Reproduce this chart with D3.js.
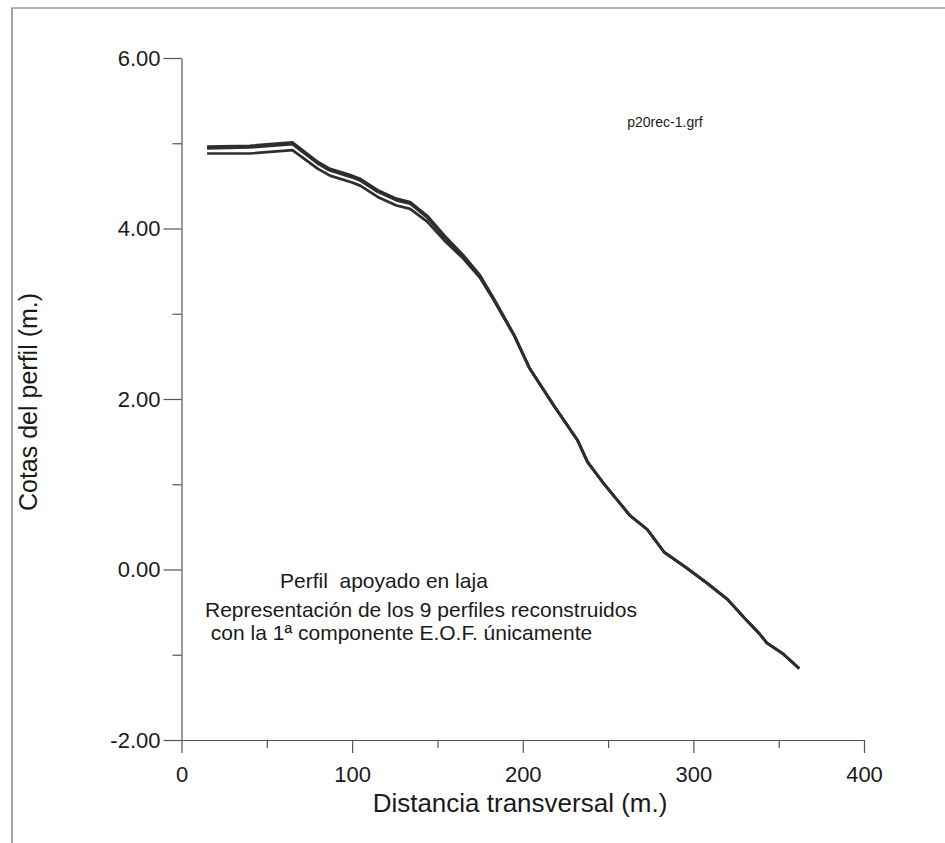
<!DOCTYPE html>
<html>
<head>
<meta charset="utf-8">
<script src="https://cdn.jsdelivr.net/npm/d3@7"></script>
<style>
  body { margin: 0; background: #fff; }
  svg { display: block; font-family: "Liberation Sans", Arial, sans-serif; }
</style>
</head>
<body>
<div id="chart"></div>
<script>
// distance along the profile (m.)
const distances = [15, 40, 65, 80, 87, 100, 105, 115, 126, 134, 144, 154, 165, 175, 183, 195, 204, 218, 232, 238, 247, 263, 273, 283, 296, 308, 320, 330, 339, 343, 352, 362];

// reconstructed profiles (only three are distinguishable in the plot)
const profileUpper = [4.96, 4.97, 5.01, 4.78, 4.70, 4.62, 4.58, 4.45, 4.35, 4.31, 4.15, 3.92, 3.69, 3.45, 3.18, 2.75, 2.36, 1.93, 1.52, 1.26, 1.02, 0.63, 0.47, 0.20, 0.02, -0.16, -0.35, -0.57, -0.76, -0.86, -0.98, -1.16];
const profileMid   = [4.94, 4.95, 4.99, 4.76, 4.68, 4.60, 4.56, 4.43, 4.33, 4.29, 4.13, 3.90, 3.68, 3.44, 3.17, 2.75, 2.36, 1.93, 1.52, 1.26, 1.02, 0.63, 0.47, 0.20, 0.02, -0.16, -0.35, -0.57, -0.76, -0.86, -0.98, -1.16];
const profileLower = [4.88, 4.88, 4.92, 4.70, 4.62, 4.54, 4.50, 4.37, 4.27, 4.23, 4.08, 3.86, 3.65, 3.42, 3.16, 2.74, 2.36, 1.93, 1.52, 1.26, 1.02, 0.63, 0.47, 0.20, 0.02, -0.16, -0.35, -0.57, -0.76, -0.86, -0.98, -1.16];

const xMajor = [0, 100, 200, 300, 400];
const xMinor = [50, 150, 250, 350];
const yMajor = [-2, 0, 2, 4, 6];
const yMinor = [-1, 1, 3, 5];

const width = 945, height = 843;

const svg = d3.select("#chart").append("svg")
    .attr("width", width)
    .attr("height", height);

// scan frame
svg.append("path")
    .attr("d", "M12,843 L12,8 L945,8")
    .attr("fill", "none")
    .attr("stroke", "#666")
    .attr("stroke-width", 1.2);

const x = d3.scaleLinear().domain([0, 400]).range([181.5, 864]);
const y = d3.scaleLinear().domain([-2, 6]).range([740, 58]);

// x axis
const xAxisG = svg.append("g").attr("transform", `translate(0,${y(-2)})`);
xAxisG.call(d3.axisBottom(x).tickValues(xMajor).tickFormat(d3.format("d"))
    .tickSize(13).tickSizeOuter(0).tickPadding(13));
xAxisG.call(g => g.append("g").call(d3.axisBottom(x).tickValues(xMinor)
    .tickFormat("").tickSize(8).tickSizeOuter(0)).select(".domain").remove());

// y axis (plain hyphen for negatives, as in the original)
const yAxisG = svg.append("g").attr("transform", `translate(${x(0)},0)`);
yAxisG.call(d3.axisLeft(y).tickValues(yMajor).tickFormat(d => d.toFixed(2))
    .tickSize(18).tickSizeOuter(0).tickPadding(3));
yAxisG.call(g => g.append("g").call(d3.axisLeft(y).tickValues(yMinor)
    .tickFormat("").tickSize(9).tickSizeOuter(0)).select(".domain").remove());

svg.selectAll(".tick text")
    .attr("fill", "#1a1a1a")
    .style("font-size", "22px");
svg.selectAll(".domain, .tick line")
    .attr("stroke", "#555")
    .attr("stroke-width", 1.2);

// axis titles
svg.append("text")
    .attr("x", 520)
    .attr("y", 812)
    .attr("text-anchor", "middle")
    .attr("fill", "#1a1a1a")
    .style("font-size", "26px")
    .text("Distancia transversal (m.)");

svg.append("text")
    .attr("transform", "translate(37,402) rotate(-90)")
    .attr("text-anchor", "middle")
    .attr("fill", "#1a1a1a")
    .style("font-size", "25px")
    .text("Cotas del perfil (m.)");

// profiles
const line = d3.line()
    .x((d, i) => x(distances[i]))
    .y(d => y(d));

[profileLower, profileMid, profileUpper].forEach(series => {
    svg.append("path")
        .datum(series)
        .attr("d", line)
        .attr("fill", "none")
        .attr("stroke", "#2e2e2e")
        .attr("stroke-width", 2.7)
        .attr("stroke-linejoin", "round");
});

// annotations
svg.append("text")
    .attr("x", 665).attr("y", 127)
    .attr("text-anchor", "middle")
    .attr("fill", "#1a1a1a")
    .style("font-size", "14px")
    .text("p20rec-1.grf");

svg.append("text")
    .attr("x", 280).attr("y", 588)
    .attr("fill", "#1a1a1a")
    .style("font-size", "21px")
    .style("white-space", "pre")
    .text("Perfil  apoyado en laja");

svg.append("text")
    .attr("x", 205).attr("y", 617)
    .attr("fill", "#1a1a1a")
    .style("font-size", "21px")
    .text("Representación de los 9 perfiles reconstruidos");

svg.append("text")
    .attr("x", 205).attr("y", 640)
    .attr("fill", "#1a1a1a")
    .style("font-size", "21px")
    .style("white-space", "pre")
    .text(" con la 1ª componente E.O.F. únicamente");
</script>
</body>
</html>
